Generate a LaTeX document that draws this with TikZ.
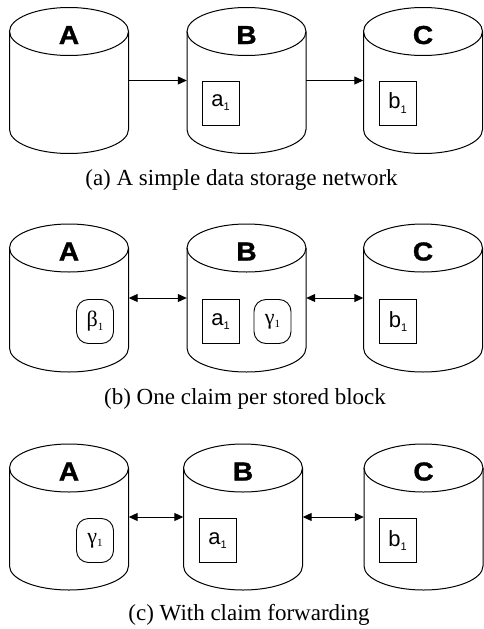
\documentclass[tikz,border=0pt]{standalone}
\usepackage{fontspec}
\setmainfont{Liberation Serif}
\setsansfont{Liberation Sans}
\newfontfamily\mylabelfont{Liberation Sans Bold}[FakeBold=1.2,FakeStretch=1.08]
\usetikzlibrary{arrows.meta}
\newcommand{\mysubone}{\raisebox{-0.35ex}{\fontsize{11}{11}\selectfont 1}}
% name, label, cx, yt, yb
\newcommand{\mycyl}[5]{%
  \draw[cylline] ({#3-59.5},#4) -- ({#3-59.5},#5)
     arc[start angle=180,end angle=0,x radius=59.5,y radius=24] -- ({#3+59.5},#4);
  \draw[cylline] (#3,#4) ellipse [x radius=59.5,y radius=24];
  \node[body, minimum height={(#5-#4)*1pt}] (#1) at (#3,{(#4+#5)/2}) {};
  \node[cyllabel] (#1-lab) at (#3,{#4+12.5}) {#2};
}
\begin{document}
\begin{tikzpicture}[x=1pt,y=-1pt,
  cylline/.style={line width=1pt},
  body/.style={minimum width=119pt, inner sep=0pt},
  cyllabel/.style={anchor=base, font=\mylabelfont\fontsize{26}{26}\selectfont},
  blockbox/.style={draw, line width=0.9pt, minimum width=37pt, minimum height=44pt, inner sep=0pt, font=\sffamily\fontsize{22}{22}\selectfont},
  claimbox/.style={draw, line width=0.9pt, rounded corners=12pt, minimum width=37pt, minimum height=44pt, inner sep=0pt, font=\fontsize{22}{22}\selectfont},
  caption/.style={anchor=base, font=\fontsize{23}{24}\selectfont},
  arr/.style={line width=1pt, -{Triangle[length=9pt,width=8pt]}},
  darr/.style={line width=1pt, {Triangle[length=9pt,width=8pt]}-{Triangle[length=9pt,width=8pt]}}
]
\useasboundingbox (0,0) rectangle (483,629);
% row (a)
\mycyl{Aa}{A}{69}{31.5}{129.5}
\mycyl{Ba}{B}{246.5}{31.5}{129.5}
\mycyl{Ca}{C}{423}{31.5}{129.5}
\draw[arr] (Aa.east) -- (Ba.west);
\draw[arr] (Ba.east) -- (Ca.west);
\node[blockbox] (a1a) at (220.5,103) {a\mysubone};
\node[blockbox] (b1a) at (397.5,103) {b\mysubone};
\node[caption] (capa) at (241.5,185) {(a) A simple data storage network};
% row (b)
\mycyl{Ab}{A}{69}{248}{348}
\mycyl{Bb}{B}{246.5}{248}{348}
\mycyl{Cb}{C}{423}{248}{348}
\draw[darr] (Ab.east) -- (Bb.west);
\draw[darr] (Bb.east) -- (Cb.west);
\node[claimbox] (beta1) at (95,321.5) {β\mysubone};
\node[blockbox] (a1b) at (220.5,321.5) {a\mysubone};
\node[claimbox] (gamma1b) at (272.5,321.5) {γ\mysubone};
\node[blockbox] (b1b) at (398,321.5) {b\mysubone};
\node[caption] (capb) at (245,404) {(b) One claim per stored block};
% row (c)
\mycyl{Ac}{A}{69}{468}{566}
\mycyl{Bc}{B}{243}{468}{566}
\mycyl{Cc}{C}{423.5}{468}{566}
\draw[darr] (Ac.east) -- (Bc.west);
\draw[darr] (Bc.east) -- (Cc.west);
\node[claimbox] (gamma1c) at (95,540.5) {γ\mysubone};
\node[blockbox] (a1c) at (217.5,540.5) {a\mysubone};
\node[blockbox] (b1c) at (397.5,540.5) {b\mysubone};
\node[caption] (capc) at (249,620) {(c) With claim forwarding};
\end{tikzpicture}
\end{document}
